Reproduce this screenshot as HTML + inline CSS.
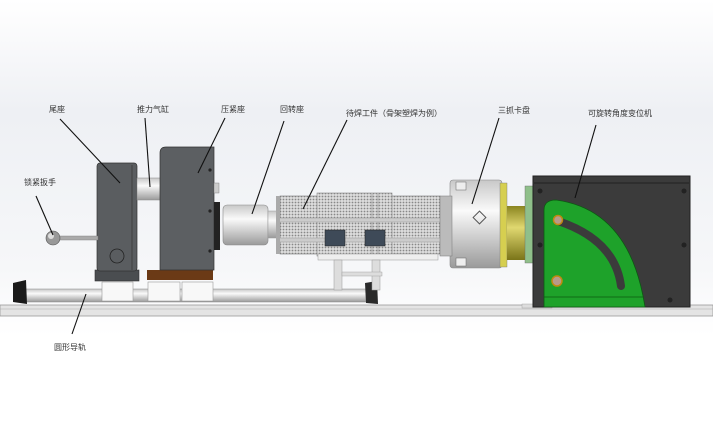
<!DOCTYPE html>
<html><head><meta charset="utf-8"><style>
html,body{margin:0;padding:0;background:#fff}
svg{display:block}
text{font-family:"Liberation Sans","Noto Sans CJK SC",sans-serif;font-size:8px;fill:#333}
</style></head><body>
<svg width="713" height="447" viewBox="0 0 713 447" xmlns="http://www.w3.org/2000/svg">
<defs>
<linearGradient id="bg" x1="0" y1="0" x2="0" y2="1"><stop offset="0" stop-color="#fff"/><stop offset="0.25" stop-color="#eef0f4"/><stop offset="0.6" stop-color="#f6f7f9"/><stop offset="0.75" stop-color="#fff"/></linearGradient>
<linearGradient id="cyl" x1="0" y1="0" x2="0" y2="1"><stop offset="0" stop-color="#c8c8c8"/><stop offset="0.35" stop-color="#fafafa"/><stop offset="1" stop-color="#9a9a9a"/></linearGradient>
<linearGradient id="ylw" x1="0" y1="0" x2="0" y2="1"><stop offset="0" stop-color="#8a8420"/><stop offset="0.4" stop-color="#e0d870"/><stop offset="1" stop-color="#7a7418"/></linearGradient>
<pattern id="mesh" width="3" height="3" patternUnits="userSpaceOnUse"><rect width="3" height="3" fill="#ddd"/><circle cx="1.5" cy="1.5" r="0.9" fill="#888"/></pattern>
</defs>
<rect width="713" height="447" fill="url(#bg)"/>
<!-- base plate -->
<rect x="0" y="305" width="713" height="11" fill="#e4e4e4" stroke="#999" stroke-width="0.8"/>
<line x1="0" y1="309" x2="713" y2="309" stroke="#aaa" stroke-width="0.6"/>
<!-- rail -->
<rect x="20" y="289" width="352" height="13" rx="3" fill="url(#cyl)" stroke="#888" stroke-width="0.6"/>
<path d="M13 283 L26 280 L27 304 L13 302 Z" fill="#1a1a1a"/>
<path d="M365 283 L377 281 L378 304 L366 303 Z" fill="#2a2a2a"/>
<!-- tail stock -->
<rect x="102" y="282" width="31" height="19" fill="#f8f8f8" stroke="#999" stroke-width="0.6"/>
<rect x="148" y="282" width="32" height="19" fill="#f8f8f8" stroke="#999" stroke-width="0.6"/>
<rect x="182" y="282" width="31" height="19" fill="#f8f8f8" stroke="#999" stroke-width="0.6"/>
<rect x="95" y="270" width="44" height="11" fill="#4a4d50" stroke="#333" stroke-width="0.6"/>
<rect x="97" y="163" width="40" height="108" rx="3" fill="#5a5d60" stroke="#333" stroke-width="0.7"/>
<line x1="132" y1="165" x2="132" y2="270" stroke="#3a3a3a" stroke-width="0.8"/>
<circle cx="117" cy="256" r="7" fill="none" stroke="#222" stroke-width="0.8"/>
<!-- handle -->
<rect x="58" y="236" width="40" height="4" fill="#aaa" stroke="#777" stroke-width="0.4"/>
<circle cx="53" cy="238" r="7" fill="#999" stroke="#555" stroke-width="0.6"/>
<circle cx="51" cy="236" r="3" fill="#ddd"/>
<!-- cylinder rod -->
<rect x="137" y="178" width="24" height="22" fill="url(#cyl)" stroke="#888" stroke-width="0.5"/>
<!-- press block -->
<rect x="147" y="270" width="66" height="10" fill="#6b3a16"/>
<path d="M166 147 H214 V270 H160 V153 Q160 147 166 147 Z" fill="#5c5f62" stroke="#333" stroke-width="0.7"/>
<circle cx="210" cy="170" r="1.6" fill="#222"/><circle cx="210" cy="211" r="1.6" fill="#222"/><circle cx="210" cy="251" r="1.6" fill="#222"/>
<rect x="214" y="183" width="5" height="10" fill="#ccc" stroke="#777" stroke-width="0.4"/>
<rect x="214" y="202" width="6" height="48" fill="#222"/>
<!-- rotary seat -->
<rect x="223" y="205" width="45" height="40" rx="4" fill="url(#cyl)" stroke="#888" stroke-width="0.6"/>
<rect x="268" y="211" width="10" height="27" fill="url(#cyl)" stroke="#999" stroke-width="0.5"/>
<!-- workpiece -->
<rect x="280" y="196" width="160" height="58" fill="url(#mesh)" stroke="#777" stroke-width="0.6"/>
<rect x="317" y="193" width="75" height="63" fill="url(#mesh)" stroke="#888" stroke-width="0.6"/>
<line x1="372" y1="194" x2="372" y2="255" stroke="#aaa"/>
<line x1="378" y1="194" x2="378" y2="255" stroke="#aaa"/>
<rect x="277" y="218" width="170" height="4" fill="#ccc" stroke="#888" stroke-width="0.4"/>
<rect x="277" y="238" width="170" height="4" fill="#ccc" stroke="#888" stroke-width="0.4"/>
<rect x="276" y="196" width="4" height="58" fill="#aaa"/>
<rect x="325" y="230" width="20" height="16" fill="#3e4a58" stroke="#222" stroke-width="0.5"/>
<rect x="365" y="230" width="20" height="16" fill="#3e4a58" stroke="#222" stroke-width="0.5"/>
<rect x="318" y="254" width="120" height="6" fill="#eee" stroke="#999" stroke-width="0.5"/>
<rect x="334" y="260" width="8" height="30" fill="#ddd" stroke="#999" stroke-width="0.5"/>
<rect x="372" y="260" width="8" height="30" fill="#ddd" stroke="#999" stroke-width="0.5"/>
<rect x="342" y="272" width="40" height="4" fill="#ddd" stroke="#999" stroke-width="0.4"/>
<!-- chuck -->
<rect x="450" y="180" width="52" height="88" rx="3" fill="url(#cyl)" stroke="#888" stroke-width="0.6"/>
<rect x="440" y="196" width="12" height="60" fill="#bbb" stroke="#777" stroke-width="0.5"/>
<rect x="456" y="182" width="10" height="8" fill="#eee" stroke="#666" stroke-width="0.5"/>
<rect x="456" y="258" width="10" height="8" fill="#eee" stroke="#666" stroke-width="0.5"/>
<rect x="475" y="213" width="9" height="9" fill="none" stroke="#555" transform="rotate(45 479.5 217.5)"/>
<rect x="500" y="183" width="7" height="84" fill="#d6cf50" stroke="#777" stroke-width="0.4"/>
<rect x="507" y="206" width="18" height="54" fill="url(#ylw)"/>
<rect x="525" y="186" width="9" height="77" fill="#8fbf8a" stroke="#666" stroke-width="0.4"/>
<!-- positioner -->
<rect x="522" y="304" width="30" height="4" fill="#ddd" stroke="#999" stroke-width="0.4"/>
<rect x="533" y="176" width="157" height="131" fill="#3b3b3b" stroke="#222"/>
<line x1="534" y1="183" x2="689" y2="183" stroke="#222"/>
<circle cx="540" cy="191" r="2.5" fill="#222"/><circle cx="684" cy="191" r="2.5" fill="#222"/>
<circle cx="540" cy="245" r="2.5" fill="#222"/><circle cx="684" cy="245" r="2.5" fill="#222"/>
<circle cx="670" cy="300" r="2.5" fill="#222"/>
<path d="M544 307 V210 Q544 200 556 200 Q630 210 645 307 Z" fill="#1ea22a" stroke="#0c5a12" stroke-width="0.8"/>
<path d="M558 221 Q615 240 621 286" fill="none" stroke="#3b3b3b" stroke-width="8" stroke-linecap="round"/>
<line x1="544" y1="297" x2="643" y2="297" stroke="#0c5a12" stroke-width="0.8"/>
<circle cx="558" cy="220" r="4.5" fill="#b89a8a" stroke="#c08a10" stroke-width="1.5"/>
<circle cx="557" cy="281" r="5" fill="#b89a8a" stroke="#c08a10" stroke-width="1.5"/>
<!-- leader lines -->
<g stroke="#111" stroke-width="1.1">
<line x1="60" y1="119" x2="120" y2="183"/>
<line x1="145" y1="118" x2="150" y2="187"/>
<line x1="225" y1="118" x2="198" y2="173"/>
<line x1="284" y1="121" x2="252" y2="214"/>
<line x1="347" y1="120" x2="303" y2="209"/>
<line x1="499" y1="118" x2="472" y2="204"/>
<line x1="596" y1="125" x2="575" y2="198"/>
<line x1="36" y1="196" x2="53" y2="235"/>
<line x1="72" y1="334" x2="86" y2="294"/>
</g>
<text x="49" y="112">尾座</text>
<text x="137" y="112">推力气缸</text>
<text x="221" y="112">压紧座</text>
<text x="280" y="112">回转座</text>
<text x="346" y="116">待焊工件（骨架塑焊为例）</text>
<text x="498" y="113">三抓卡盘</text>
<text x="588" y="116">可旋转角度变位机</text>
<text x="24" y="185">锁紧扳手</text>
<text x="54" y="350">圆形导轨</text>
</svg>
</body></html>
